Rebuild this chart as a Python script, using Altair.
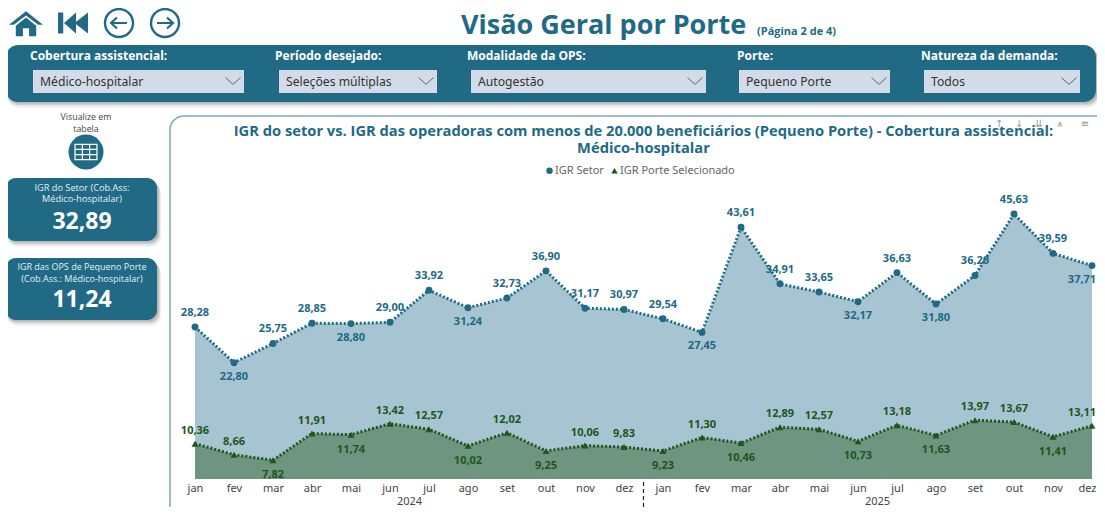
import altair as alt
import pandas as pd

MESES = ["jan","fev","mar","abr","mai","jun","jul","ago","set","out","nov","dez"]
ANOS = ["2024", "2025"]
IGR_SETOR = [28.28,22.80,25.75,28.85,28.80,29.00,33.92,31.24,32.73,36.90,31.17,30.97,
             29.54,27.45,43.61,34.91,33.65,32.17,36.63,31.80,36.20,45.63,39.59,37.71]
IGR_PORTE = [10.36,8.66,7.82,11.91,11.74,13.42,12.57,10.02,12.02,9.25,10.06,9.83,
             9.23,11.30,10.46,12.89,12.57,10.73,13.18,11.63,13.97,13.67,11.41,13.11]
SERIES = ["IGR Setor", "IGR Porte Selecionado"]
TITULO = ["IGR do setor vs. IGR das operadoras com menos de 20.000 beneficiários (Pequeno Porte) - Cobertura assistencial:",
          "Médico-hospitalar"]

TEAL = "#206a86"
GREEN = "#1d571c"
FONT = "Open Sans"
X0, Y0, X1, Y1 = 195, 180, 1092, 479
W, H = X1 - X0, Y1 - Y0
ONE = alt.Data(values=[{"a": 1}])


def frame(vals, name):
    rows = []
    for i, v in enumerate(vals):
        prev_v = vals[i - 1] if i else None
        next_v = vals[i + 1] if i < len(vals) - 1 else None
        low = prev_v is not None and v < prev_v and (next_v is None or v < next_v)
        rows.append({"i": i, "serie": name, "v": v, "rot": f"{v:.2f}".replace(".", ","), "low": low})
    return pd.DataFrame(rows)


setor = frame(IGR_SETOR, SERIES[0])
porte = frame(IGR_PORTE, SERIES[1])
both = pd.concat([setor, porte])

xs = alt.Scale(domain=[0, 23], nice=False, zero=False)
ys = alt.Scale(domain=[4.93, 50.86], nice=False, zero=False)
labelExpr = "[" + ",".join(f"'{m}'" for m in MESES) + "][datum.value % 12]"
X = alt.X("i:Q", scale=xs, title=None,
          axis=alt.Axis(values=list(range(24)), labelExpr=labelExpr, grid=False, domain=False, ticks=False,
                        labelFont="Noto Sans", labelFontSize=11, labelColor="#444444", labelPadding=3,
                        labelOverlap=False, labelFlush=False, zindex=1,
                        labelAlign={"condition": {"test": "datum.value === 23", "value": "right"}, "value": "center"},
                        labelOffset={"condition": {"test": "datum.value === 23", "value": 4}, "value": 0}))
Y = alt.Y("v:Q", scale=ys, axis=None, stack=None)


def rect(x0, y0, x1, y1, r=0, fill=None, stroke=None, sw=1, opacity=1):
    kw = {"cornerRadius": r, "opacity": opacity}
    kw["fill"] = fill if fill else "transparent"
    if stroke:
        kw["stroke"] = stroke
        kw["strokeWidth"] = sw
    return alt.Chart(ONE).mark_rect(**kw).encode(
        x=alt.value(x0 - X0), x2=alt.value(x1 - X0), y=alt.value(y0 - Y0), y2=alt.value(y1 - Y0))


def panel(x0, y0, x1, y1, r, fill=TEAL):
    out = []
    for d, o in [(6, .05), (4.5, .08), (3, .12), (1.5, .15)]:
        out.append(rect(x0 + 1, y0 + d, x1 + 1 + d / 2, y1 + d, r, "#333333", opacity=o))
    out.append(rect(x0, y0, x1, y1, r, fill))
    return out


def txt(t, x, y, size=10, color="#333333", weight="normal", align="center", font=FONT):
    return alt.Chart(alt.Data(values=[{"t": t}])).mark_text(
        fontSize=size, color=color, fontWeight=weight, align=align, baseline="middle", font=font
    ).encode(text="t:N", x=alt.value(x - X0), y=alt.value(y - Y0))


def icon(path, x, y, half, fill=None, stroke=None, sw=1):
    kw = {"shape": path, "size": (2 * half) ** 2, "opacity": 1}
    if fill:
        kw.update(filled=True, fill=fill, strokeWidth=0)
    else:
        kw.update(filled=False, stroke=stroke, strokeWidth=sw)
    return alt.Chart(ONE).mark_point(**kw).encode(x=alt.value(x - X0), y=alt.value(y - Y0))


chrome = []
chrome.append(icon("M0,-.75 L1,.05 L.72,.05 L0,-.5 L-.72,.05 L-1,.05 Z M-.6,.1 L0,-.38 L.6,.1 L.6,.72 L.18,.72 L.18,.25 L-.18,.25 L-.18,.72 L-.6,.72 Z",
                   26, 24, 17, fill=TEAL))
chrome.append(icon("M-1,-.7 H-.65 V.7 H-1 Z M-.6,0 L.2,-.7 V.7 Z M.1,0 L1,-.7 V.7 Z", 73, 23, 15, fill=TEAL))
for cx, p in [(119, "M.8,0 H-.8 M-.2,-.55 L-.8,0 L-.2,.55"), (165, "M-.8,0 H.8 M.2,-.55 L.8,0 L.2,.55")]:
    chrome.append(icon("circle", cx, 23, 14, stroke=TEAL, sw=2.4))
    chrome.append(icon(p, cx, 23, 10, stroke=TEAL, sw=2.2))
chrome.append(txt("Visão Geral por Porte", 461, 26, 27, TEAL, "bold", "left"))
chrome.append(txt("(Página 2 de 4)", 757, 32, 11, TEAL, "bold", "left"))

chrome += panel(6, 45, 1096, 102, 12)
FILTROS = [("Cobertura assistencial:", "Médico-hospitalar", 30, 33, 244),
           ("Período desejado:", "Seleções múltiplas", 275, 279, 437),
           ("Modalidade da OPS:", "Autogestão", 467, 471, 706),
           ("Porte:", "Pequeno Porte", 737, 739, 890),
           ("Natureza da demanda:", "Todos", 921, 924, 1080)]
for head, val, hx, bx0, bx1 in FILTROS:
    chrome.append(txt(head, hx, 56, 12, "#ffffff", "bold", "left"))
    chrome.append(rect(bx0, 70, bx1, 93, 0, "#d4dbe8"))
    chrome.append(txt(val, bx0 + 7, 82, 12.2, "#333333", "normal", "left", "Noto Sans"))
    chrome.append(icon("M-1,-.45 L0,.45 L1,-.45", bx1 - 11, 81, 7.5, stroke="#555555", sw=0.9))

chrome.append(txt("Visualize em", 86, 117, 8.8, "#444444"))
chrome.append(txt("tabela", 86, 129, 8.8, "#444444"))
chrome.append(icon("circle", 86, 152, 17.5, fill=TEAL))
chrome.append(icon("M-1,-.7 H1 V.7 H-1 Z M-1,-.23 H1 M-1,.23 H1 M-.33,-.7 V.7 M.33,-.7 V.7", 86, 152, 11, stroke="#ffffff", sw=1.2))
chrome += panel(6, 178, 157, 241, 10)
chrome.append(txt("IGR do Setor (Cob.Ass:", 82, 188, 9.2, "#e8eef2"))
chrome.append(txt("Médico-hospitalar)", 82, 199, 9.2, "#e8eef2"))
chrome.append(txt("32,89", 82, 222, 23, "#ffffff", "bold"))
chrome += panel(6, 258, 157, 320, 10)
chrome.append(txt("IGR das OPS de Pequeno Porte", 82, 267, 9, "#e8eef2"))
chrome.append(txt("(Cob.Ass.: Médico-hospitalar)", 82, 279, 9, "#e8eef2"))
chrome.append(txt("11,24", 82, 300, 23, "#ffffff", "bold"))

chrome.append(rect(170, 116, 1140, 560, 14, "#ffffff", "#7fabbd", 1.5))

area_s = alt.Chart(setor).mark_area(color="#a6c4d1", opacity=1, clip=True).encode(x=X, y=Y)
area_p = alt.Chart(porte).mark_area(color="#6e9580", opacity=1, clip=True).encode(x=X, y=Y)
line_s = alt.Chart(setor).mark_line(color=TEAL, strokeWidth=3, strokeDash=[2, 2]).encode(x=X, y=Y)
line_p = alt.Chart(porte).mark_line(color=GREEN, strokeWidth=3, strokeDash=[2, 2]).encode(x=X, y=Y)
pts = alt.Chart(both).mark_point(filled=True, size=48, opacity=1).encode(
    x=X, y=Y,
    color=alt.Color("serie:N", scale=alt.Scale(domain=SERIES, range=[TEAL, GREEN]),
                    legend=alt.Legend(orient="none", legendX=544 - X0, legendY=165 - Y0, direction="horizontal",
                                      title=None, labelFont="Noto Sans", labelFontSize=11, labelColor="#666666",
                                      symbolSize=42, columnPadding=5, labelOffset=0)),
    shape=alt.Shape("serie:N", scale=alt.Scale(domain=SERIES, range=["circle", "triangle-up"])))


def labels(df, color, up, down):
    last = df.i == df.i.max()
    out = []
    for sub, dy, dx in [(df[~df.low & ~last], up, 0), (df[df.low & ~last], down, 0),
                        (df[~df.low & last], up, -10), (df[df.low & last], down, -10)]:
        if len(sub):
            out.append(alt.Chart(sub).mark_text(fontSize=11, fontWeight="bold", font=FONT, color=color,
                                                dy=dy, dx=dx).encode(x=X, y=Y, text="rot:N"))
    return out


anos = pd.DataFrame({"i": [5.5, 17.5], "ano": ANOS})
ano_txt = alt.Chart(anos).mark_text(fontSize=11, font="Noto Sans", color="#444444").encode(
    x=X, y=alt.value(H + 23), text="ano:N")
sep = alt.Chart(pd.DataFrame({"i": [11.5]})).mark_rule(color="#222222", strokeDash=[4, 3], strokeWidth=1.2).encode(
    x=X, y=alt.value(H + 3), y2=alt.value(H + 31))

toolbar = [txt(t, x, 124, 10, "#999999", "normal", "center", "DejaVu Sans")
           for t, x in [("↑", 999), ("↓", 1019), ("⇊", 1039), ("⩚", 1060), ("≡", 1085)]]

layers = chrome + [area_s, area_p, line_s, line_p, pts] + labels(setor, TEAL, -14, 14) + \
    labels(porte, GREEN, -13, 15) + [ano_txt, sep] + toolbar

chart = alt.layer(*layers).properties(
    width=W, height=H,
    padding={"left": X0 - 8, "top": Y0 - 8, "right": 1097 - X1, "bottom": 507 - Y1},
    autosize=alt.AutoSizeParams(type="none"),
    background="#ffffff",
    title=alt.TitleParams(text=TITULO, anchor="middle", font=FONT, fontSize=14.7, fontWeight="bold", color=TEAL,
                          lineHeight=17, offset=0, dy=151),
).configure_view(stroke=None)

chart.save("out.html", embed_options={"renderer": "svg", "actions": False})
